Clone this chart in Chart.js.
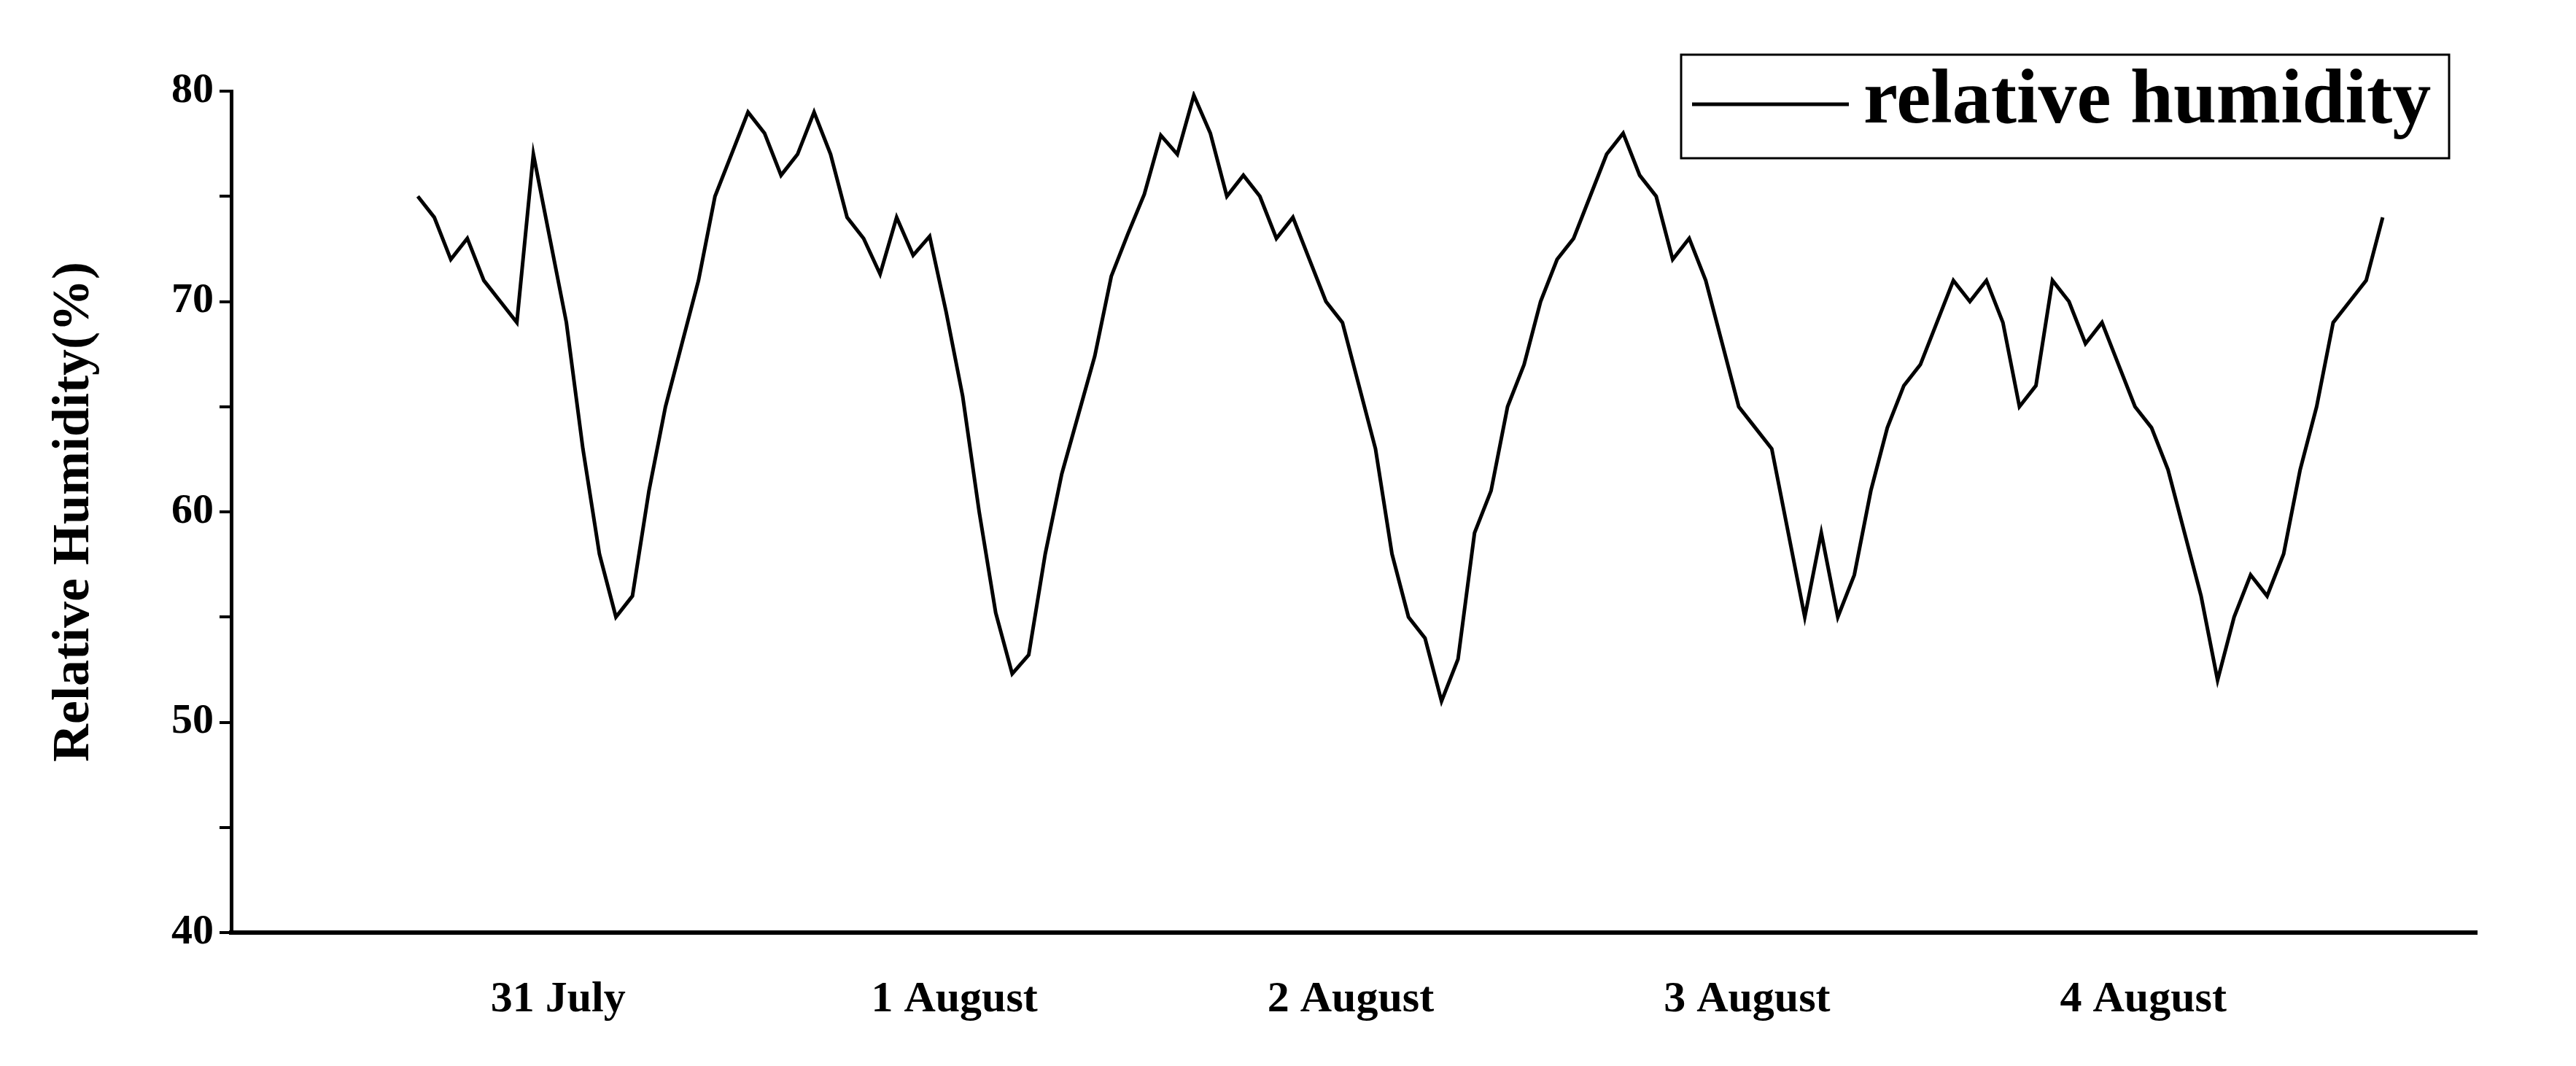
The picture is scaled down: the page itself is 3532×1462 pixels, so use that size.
<!DOCTYPE html>
<html>
<head>
<meta charset="utf-8">
<script src="https://cdn.jsdelivr.net/npm/chart.js@4"></script>
<style>
  html, body { margin: 0; padding: 0; background: #fff; }
  #wrap { width: 3532px; height: 1462px; position: relative; }
</style>
</head>
<body>
<div id="wrap"><canvas id="rhChart"></canvas></div>
<script>
// hourly relative humidity, 31 July - 4 August
const humidity = [
  75, 74, 72, 73, 71, 70, 69, 77, 73, 69, 63, 58, 55, 56, 61, 65, 68, 71, 75, 77, 79, 78, 76, 77,
  79, 77, 74, 73, 71.3, 74, 72.2, 73.1, 69.5, 65.5, 60, 55.2, 52.3, 53.2, 58, 61.8, 64.6, 67.4, 71.2, 73.2, 75.1, 77.9, 77, 79.8,
  78, 75, 76, 75, 73, 74, 72, 70, 69, 66, 63, 58, 55, 54, 51, 53, 59, 61, 65, 67, 70, 72, 73, 75,
  77, 78, 76, 75, 72, 73, 71, 68, 65, 64, 63, 59, 55, 59, 55, 57, 61, 64, 66, 67, 69, 71, 70, 71,
  69, 65, 66, 71, 70, 68, 69, 67, 65, 64, 62, 59, 56, 52, 55, 57, 56, 58, 62, 65, 69, 70, 71, 74
];
const dayLabels = ['31 July', '1 August', '2 August', '3 August', '4 August'];
const dayPositions = [8.5, 32.5, 56.5, 80.5, 104.5];
const legendLabel = 'relative humidity';

const points = humidity.map((v, i) => ({ x: i, y: v }));
const font = 'Liberation Serif';

// boxed legend in the top right corner
const legendBox = {
  id: 'legendBox',
  afterDraw(chart) {
    const ctx = chart.ctx;
    const x = 2305, y = 75, w = 1053, h = 142;
    ctx.save();
    ctx.strokeStyle = '#000';
    ctx.lineWidth = 3;
    ctx.strokeRect(x, y, w, h);
    ctx.lineWidth = 5;
    ctx.beginPath();
    ctx.moveTo(x + 15, y + 68);
    ctx.lineTo(x + 230, y + 68);
    ctx.stroke();
    ctx.fillStyle = '#000';
    ctx.font = 'bold 106px "' + font + '"';
    ctx.textBaseline = 'middle';
    ctx.fillText(legendLabel, x + 250, y + 66);
    ctx.restore();
  }
};

new Chart(document.getElementById('rhChart'), {
  type: 'line',
  data: {
    datasets: [{
      label: legendLabel,
      data: points,
      borderColor: '#000',
      borderWidth: 5,
      pointRadius: 0,
      tension: 0,
      fill: false
    }]
  },
  options: {
    responsive: true,
    maintainAspectRatio: false,
    devicePixelRatio: 1,
    animation: false,
    layout: { padding: { top: 125, right: 136, left: 55, bottom: 0 } },
    plugins: {
      legend: { display: false },
      tooltip: { enabled: false }
    },
    scales: {
      x: {
        type: 'linear',
        min: -11.3,
        max: 124.7,
        afterBuildTicks: (scale) => {
          scale.ticks = dayPositions.map(v => ({ value: v }));
        },
        afterFit: (scale) => { scale.height = 183; },
        grid: { display: false },
        border: { display: true, color: '#000', width: 6 },
        ticks: {
          autoSkip: false,
          maxRotation: 0,
          padding: 48,
          color: '#000',
          font: { family: font, size: 60, weight: 'bold' },
          callback: (v) => {
            const k = dayPositions.indexOf(v);
            return k >= 0 ? dayLabels[k] : '';
          }
        }
      },
      y: {
        min: 40,
        max: 80,
        afterFit: (scale) => { scale.width = 262; },
        grid: { drawOnChartArea: false, drawTicks: true, tickLength: 16, color: '#000', lineWidth: 4 },
        border: { display: true, color: '#000', width: 5 },
        ticks: {
          stepSize: 5,
          padding: 8,
          color: '#000',
          font: { family: font, size: 58, weight: 'bold' },
          callback: (v) => (v % 10 === 0 ? v : '')
        },
        title: {
          display: true,
          text: 'Relative Humidity(%)',
          color: '#000',
          font: { family: font, size: 72, weight: 'bold' },
          padding: { bottom: 20 }
        }
      }
    }
  },
  plugins: [legendBox]
});
</script>
</body>
</html>
